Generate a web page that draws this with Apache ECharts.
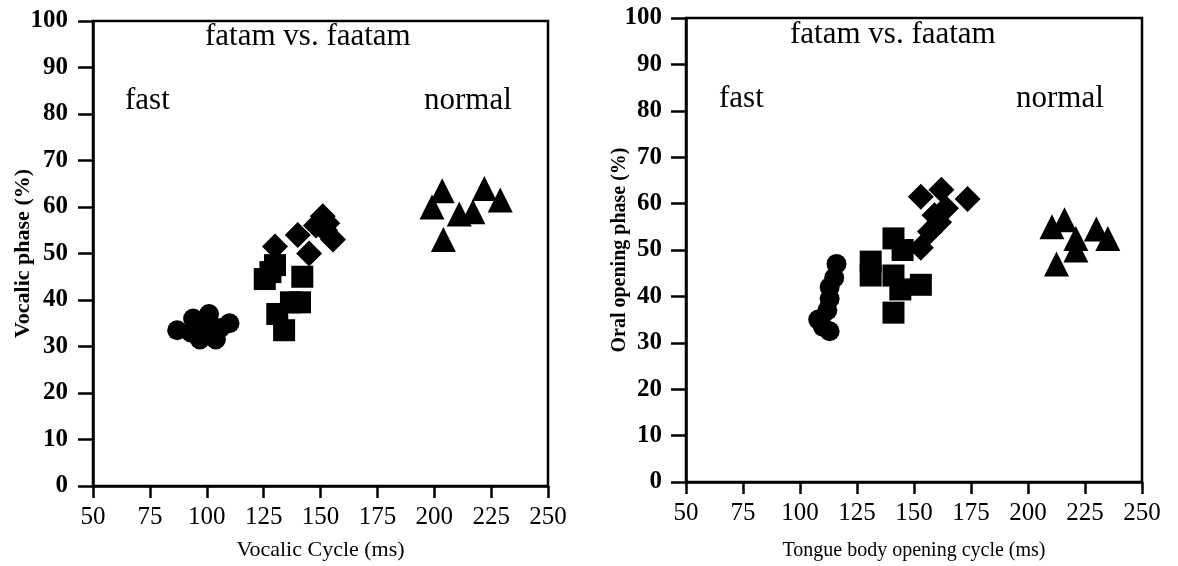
<!DOCTYPE html>
<html>
<head>
<meta charset="utf-8">
<script src="https://cdn.jsdelivr.net/npm/echarts@6/dist/echarts.min.js"></script>
<style>
html,body{margin:0;padding:0;background:#fff;}
#chart{width:1178px;height:566px;}
</style>
</head>
<body>
<div id="chart"></div>
<script>
// ---- data ----
var xTicks = [50, 75, 100, 125, 150, 175, 200, 225, 250];
var yTicks = [0, 10, 20, 30, 40, 50, 60, 70, 80, 90, 100];

var leftCircles = [[87,33.5],[93,33],[94,36],[97,31.5],[101,37],[104,31.5],[106,34],[110,35],[99,34]];
var leftSquares = [[125.5,44.5],[128,46],[130,47.5],[142,45],[137,39.5],[141,39.5],[131,37],[134,33.5]];
var leftDiamonds = [[130,51.5],[140,54],[145,50],[148,56],[151,58],[153,56.5],[155.5,53],[152,55]];
var leftTriangles = [[199,60],[203.5,63.5],[204,53],[211,58.5],[217,59],[222,64],[229,61.5]];

var rightCircles = [[108,35],[110,33.5],[113,32.5],[112,37],[113,39.5],[113,42],[115,44],[116,47]];
var rightSquares = [[131,47.5],[131,44.5],[141,52.5],[145,50],[141,44.5],[144,41.5],[153,42.5],[141,36.5]];
var rightDiamonds = [[153,61.5],[162,63],[173.5,61],[159,57.5],[157,54],[153,50.5],[161,56],[164,59]];
var rightTriangles = [[210.5,55],[216,56.5],[212.5,47],[221,52.5],[221,50],[230,54.5],[235,52.5]];

var titleText = 'fatam vs. faatam';
var leftXName = 'Vocalic Cycle (ms)';
var leftYName = 'Vocalic phase (%)';
var rightXName = 'Tongue body opening cycle (ms)';
var rightYName = 'Oral opening phase (%)';

// ---- chart ----
var FONT = '"Liberation Serif", "DejaVu Serif", serif';
var chart = echarts.init(document.getElementById('chart'), null, {renderer: 'canvas'});

function xAxis(gridIndex, name, nameSize, nameGap) {
  return {
    gridIndex: gridIndex, type: 'value', min: xTicks[0], max: xTicks[xTicks.length - 1], interval: 25,
    name: name, nameLocation: 'middle', nameGap: nameGap, nameMoveOverlap: false,
    nameTextStyle: {fontFamily: FONT, fontSize: nameSize, color: '#000'},
    axisLine: {show: true, onZero: false, lineStyle: {color: '#000', width: 2.5}},
    axisTick: {show: true, inside: false, length: 12, lineStyle: {color: '#000', width: 2.5}},
    axisLabel: {fontFamily: FONT, fontSize: 25, color: '#000', margin: 19},
    splitLine: {show: false}
  };
}
function yAxis(gridIndex, name, nameSize, nameGap, labelMargin) {
  return {
    gridIndex: gridIndex, type: 'value', min: yTicks[0], max: yTicks[yTicks.length - 1], interval: 10,
    name: name, nameLocation: 'middle', nameGap: nameGap, nameMoveOverlap: false,
    nameTextStyle: {fontFamily: FONT, fontSize: nameSize, fontWeight: 'bold', color: '#000'},
    axisLine: {show: true, onZero: false, lineStyle: {color: '#000', width: 2.5}},
    axisTick: {show: true, inside: false, length: 15, lineStyle: {color: '#000', width: 2.5}},
    axisLabel: {fontFamily: FONT, fontSize: 25, fontWeight: 'bold', color: '#000', margin: labelMargin},
    splitLine: {show: false}
  };
}
function sc(xi, data, symbol, size) {
  return {type: 'scatter', xAxisIndex: xi, yAxisIndex: xi, data: data, symbol: symbol, symbolSize: size,
    itemStyle: {color: '#000', opacity: 1}, silent: true, animation: false};
}

var option = {
  backgroundColor: '#fff',
  animation: false,
  grid: [
    {left: 93, top: 21, width: 455, height: 466, show: true, borderColor: '#000', borderWidth: 2.5, backgroundColor: 'transparent'},
    {left: 686, top: 18, width: 456, height: 464, show: true, borderColor: '#000', borderWidth: 2.5, backgroundColor: 'transparent'}
  ],
  xAxis: [xAxis(0, leftXName, 22, 53), xAxis(1, rightXName, 20, 59)],
  yAxis: [yAxis(0, leftYName, 22, 59, 25), yAxis(1, rightYName, 20, 56, 24)],
  series: [
    sc(0, leftCircles, 'circle', 20),
    sc(0, leftSquares, 'rect', 22),
    sc(0, leftDiamonds, 'diamond', 26),
    sc(0, leftTriangles, 'triangle', 25),
    sc(1, rightCircles, 'circle', 20),
    sc(1, rightSquares, 'rect', 22),
    sc(1, rightDiamonds, 'diamond', 26),
    sc(1, rightTriangles, 'triangle', 25)
  ],
  graphic: [
    {type: 'text', left: 205, top: 21, style: {text: titleText, font: '31px ' + FONT, fill: '#000'}},
    {type: 'text', left: 125, top: 85, style: {text: 'fast', font: '31px ' + FONT, fill: '#000'}},
    {type: 'text', left: 424, top: 85, style: {text: 'normal', font: '31px ' + FONT, fill: '#000'}},
    {type: 'text', left: 790, top: 19, style: {text: titleText, font: '31px ' + FONT, fill: '#000'}},
    {type: 'text', left: 719, top: 83, style: {text: 'fast', font: '31px ' + FONT, fill: '#000'}},
    {type: 'text', left: 1016, top: 83, style: {text: 'normal', font: '31px ' + FONT, fill: '#000'}}
  ]
};
chart.setOption(option);
</script>
</body>
</html>
